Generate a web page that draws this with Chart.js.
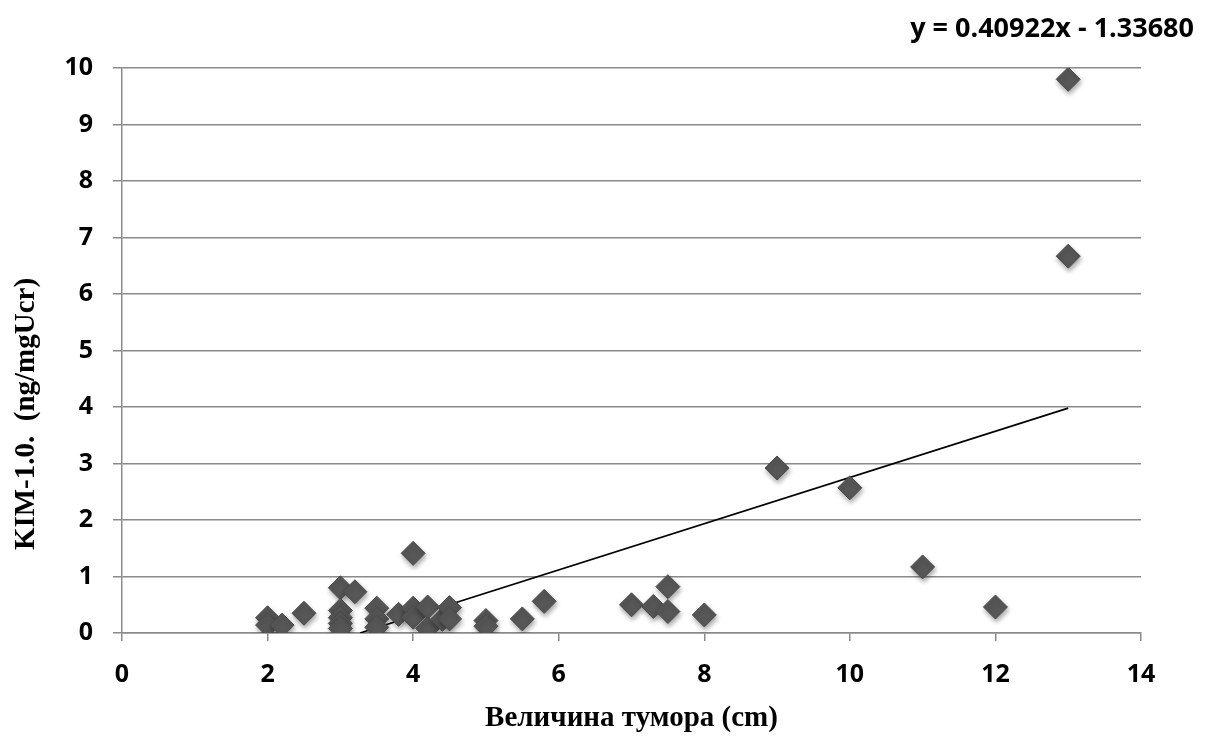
<!DOCTYPE html>
<html>
<head>
<meta charset="utf-8">
<script src="https://cdn.jsdelivr.net/npm/chart.js@4"></script>
<style>
  html, body { margin: 0; padding: 0; background: #fff; }
  #wrap { width: 1206px; height: 736px; }
</style>
</head>
<body>
<div id="wrap"><canvas id="c" width="1206" height="736"></canvas></div>
<script>
// ---- data ----
const tumorSize = [2, 2, 2.2, 2.5, 3, 3.2, 3, 3, 3, 3, 3.5, 3.5, 3.5, 3.8, 4, 4, 4, 4.2, 4.2, 4.4, 4.5, 4.5, 5, 5, 5.5, 5.8, 7, 7.3, 7.5, 7.5, 8, 9, 10, 11, 12, 13, 13];
const kim1 = [0.27, 0.14, 0.14, 0.35, 0.8, 0.73, 0.4, 0.27, 0.17, 0.08, 0.44, 0.25, 0.1, 0.33, 0.44, 0.28, 1.41, 0.46, 0.08, 0.24, 0.45, 0.25, 0.22, 0.12, 0.25, 0.56, 0.5, 0.47, 0.82, 0.38, 0.32, 2.92, 2.57, 1.17, 0.46, 6.67, 9.8];
const trendX = [3.27, 13];
const trendY = [0, 3.98];
const equationText = 'y = 0.40922x - 1.33680';
const xTitle = 'Величина тумора (cm)';
const yTitle = 'KIM-1.0.  (ng/mgUcr)';

const scatterData = tumorSize.map((x, i) => ({ x: x, y: kim1[i] }));
const trendData = trendX.map((x, i) => ({ x: x, y: trendY[i] }));

const shadowPlugin = {
  id: 'shadow',
  beforeDatasetDraw(chart, args) {
    if (args.index === 0) {
      const ctx = chart.ctx;
      ctx.save();
      ctx.shadowColor = 'rgba(0,0,0,0.35)';
      ctx.shadowBlur = 5;
      ctx.shadowOffsetX = 1;
      ctx.shadowOffsetY = 3;
    }
  },
  afterDatasetDraw(chart, args) {
    if (args.index === 0) chart.ctx.restore();
  }
};

const textPlugin = {
  id: 'texts',
  afterDraw(chart) {
    const ctx = chart.ctx;
    ctx.save();
    ctx.font = 'bold 27px "Open Sans"';
    ctx.fillStyle = '#000';
    ctx.textAlign = 'right';
    ctx.textBaseline = 'middle';
    ctx.fillText(equationText, 1194, 29);
    // y-axis title (rotated)
    ctx.translate(27, 414);
    ctx.rotate(-Math.PI / 2);
    ctx.font = 'bold 29px "Liberation Serif"';
    ctx.textAlign = 'center';
    ctx.textBaseline = 'middle';
    ctx.fillText(yTitle, 0, 0);
    ctx.restore();
  }
};

new Chart(document.getElementById('c'), {
  type: 'scatter',
  data: {
    datasets: [
      {
        data: scatterData,
        pointStyle: 'rectRot',
        pointRadius: 12,
        pointHoverRadius: 12,
        backgroundColor: '#575757',
        borderColor: '#4a4a4a',
        borderWidth: 1
      },
      {
        type: 'line',
        data: trendData,
        borderColor: '#000',
        borderWidth: 1.6,
        pointRadius: 0,
        fill: false,
        tension: 0
      }
    ]
  },
  options: {
    responsive: false,
    animation: false,
    layout: { padding: { top: 68, right: 65, bottom: 0, left: 0 } },
    plugins: { legend: { display: false }, tooltip: { enabled: false } },
    scales: {
      x: {
        type: 'linear',
        min: 0, max: 14,
        afterFit(scale) { scale.height = 103; },
        ticks: { stepSize: 2, color: '#000', padding: 19, font: { family: 'Open Sans', size: 25, weight: 'bold' } },
        grid: { drawOnChartArea: false, drawTicks: true, tickLength: 8, color: '#8a8a8a', lineWidth: 1.5 },
        border: { color: '#8a8a8a', width: 1.5 },
        title: { display: true, text: xTitle, color: '#000', padding: { top: 0, bottom: 0 }, font: { family: 'Liberation Serif', size: 29, weight: 'bold' } }
      },
      y: {
        min: 0, max: 10,
        afterFit(scale) { scale.width = 122; },
        ticks: { stepSize: 1, color: '#000', padding: 20, font: { family: 'Open Sans', size: 25, weight: 'bold' } },
        grid: { drawTicks: true, tickLength: 9, color: '#8a8a8a', lineWidth: 1.5 },
        border: { color: '#8a8a8a', width: 1.5 },
        title: { display: false }
      }
    }
  },
  plugins: [shadowPlugin, textPlugin]
});
</script>
</body>
</html>
